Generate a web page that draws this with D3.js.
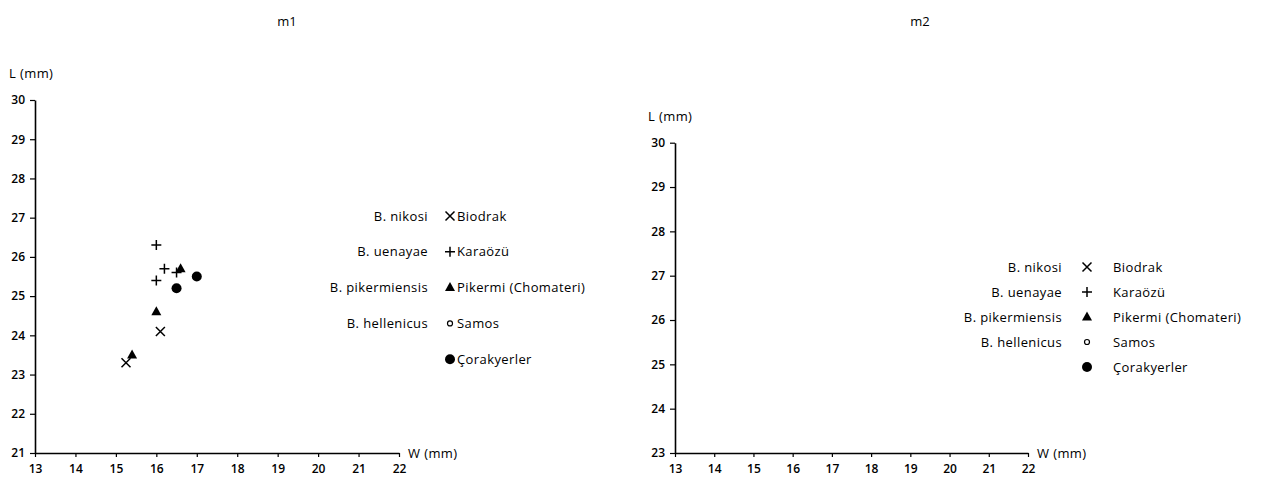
<!DOCTYPE html>
<html>
<head>
<meta charset="utf-8">
<script src="https://cdn.jsdelivr.net/npm/d3@7/dist/d3.min.js"></script>
<style>
  body { margin: 0; background: #fff; }
  svg { display: block; }
  text { font-family: "Open Sans", "Noto Sans", sans-serif; fill: #000; }
  .lab { letter-spacing: 0.4px; }
</style>
</head>
<body>
<svg id="chart" width="1265" height="484"></svg>
<script>
// Locality groups, species names and marker shapes
const localities = ["Biodrak", "Karaözü", "Pikermi (Chomateri)", "Samos", "Çorakyerler"];
const species = ["B. nikosi", "B. uenayae", "B. pikermiensis", "B. hellenicus", ""];
const shapes = ["x", "plus", "triangle", "ring", "dot"];

// m1 measurements: width W (mm) and length L (mm)
const m1Locality = ["Karaözü", "Karaözü", "Karaözü", "Karaözü",
                    "Pikermi (Chomateri)", "Pikermi (Chomateri)", "Pikermi (Chomateri)",
                    "Çorakyerler", "Çorakyerler", "Biodrak", "Biodrak"];
const m1W = [16.0, 16.2, 16.5, 16.0, 16.6, 16.0, 15.4, 17.0, 16.5, 16.1, 15.25];
const m1L = [26.3, 25.7, 25.6, 25.4, 25.7, 24.6, 23.5, 25.5, 25.2, 24.1, 23.3];

// m2 has no plotted measurements
const m2Locality = [];
const m2W = [];
const m2L = [];

const xTicks = [13, 14, 15, 16, 17, 18, 19, 20, 21, 22];
const yTicksM1 = [21, 22, 23, 24, 25, 26, 27, 28, 29, 30];
const yTicksM2 = [23, 24, 25, 26, 27, 28, 29, 30];

const svg = d3.select("#chart");

function marker(g, shape, cx, cy) {
  if (shape === "x") {
    const s = 4.5;
    g.append("path")
      .attr("d", `M${cx - s},${cy - s}L${cx + s},${cy + s}M${cx - s},${cy + s}L${cx + s},${cy - s}`)
      .attr("stroke", "#000").attr("stroke-width", 1.5).attr("fill", "none");
  } else if (shape === "plus") {
    const s = 5;
    g.append("path")
      .attr("d", `M${cx - s},${cy}L${cx + s},${cy}M${cx},${cy - s}L${cx},${cy + s}`)
      .attr("stroke", "#000").attr("stroke-width", 1.5).attr("fill", "none");
  } else if (shape === "triangle") {
    g.append("path")
      .attr("d", `M${cx},${cy - 5.5}L${cx + 5},${cy + 3.5}L${cx - 5},${cy + 3.5}Z`)
      .attr("fill", "#000");
  } else if (shape === "ring") {
    g.append("circle").attr("cx", cx).attr("cy", cy).attr("r", 2.5)
      .attr("fill", "#fff").attr("stroke", "#000").attr("stroke-width", 1.2);
  } else if (shape === "dot") {
    g.append("circle").attr("cx", cx).attr("cy", cy).attr("r", 5).attr("fill", "#000");
  }
}

function panel(cfg) {
  const g = svg.append("g");
  const x = d3.scaleLinear().domain([13, 22]).range([cfg.x0, cfg.x1]);
  const y = d3.scaleLinear().domain(cfg.yDomain).range([cfg.yBottom, cfg.yTop]);

  // Title
  g.append("text").attr("x", cfg.titleX).attr("y", 26)
    .attr("text-anchor", "middle").attr("font-size", 13).text(cfg.title);

  // Axes
  const xAxis = d3.axisBottom(x).tickValues(xTicks).tickFormat(d3.format("d"))
    .tickSize(4).tickSizeOuter(0).tickPadding(7);
  const yAxis = d3.axisLeft(y).tickValues(cfg.yTicks).tickFormat(d3.format("d"))
    .tickSize(5).tickSizeOuter(0).tickPadding(5);

  const gx = g.append("g").attr("transform", `translate(0,${cfg.yBottom})`).call(xAxis);
  const gy = g.append("g").attr("transform", `translate(${cfg.x0},0)`).call(yAxis);
  [gx, gy].forEach(a => {
    a.select(".domain").attr("stroke", "#000").attr("stroke-width", 1.6);
    a.selectAll(".tick line").attr("stroke", "#000").attr("stroke-width", 1.2);
    a.selectAll(".tick text").attr("font-size", 12).attr("font-family", "Open Sans, sans-serif")
      .attr("fill", "#000").attr("font-weight", 600);
  });

  // Axis titles
  g.append("text").attr("class", "lab").attr("x", cfg.yLabelX).attr("y", y(cfg.yDomain[1]) - 22)
    .attr("font-size", 13).text("L (mm)");
  g.append("text").attr("class", "lab").attr("x", cfg.x1 + 9).attr("y", cfg.yBottom + 5)
    .attr("font-size", 13).text("W (mm)");

  // Data points
  const pts = g.append("g");
  cfg.W.forEach((w, i) => {
    const shape = shapes[localities.indexOf(cfg.loc[i])];
    marker(pts, shape, x(w), y(cfg.L[i]));
  });

  // Legend
  const lg = g.append("g");
  localities.forEach((name, i) => {
    const ly = cfg.legY + i * cfg.legStep;
    if (species[i]) {
      lg.append("text").attr("class", "lab").attr("x", cfg.legLabelX).attr("y", ly + 4.5)
        .attr("text-anchor", "end").attr("font-size", 13).text(species[i]);
    }
    marker(lg, shapes[i], cfg.legSymX, ly);
    lg.append("text").attr("class", "lab").attr("x", cfg.legTextX).attr("y", ly + 4.5)
      .attr("font-size", 13).text(name);
  });
}

panel({
  title: "m1", titleX: 287,
  x0: 35, x1: 399, yBottom: 453, yTop: 100,
  yDomain: [21, 30], yTicks: yTicksM1, yLabelX: 9,
  W: m1W, L: m1L, loc: m1Locality,
  legY: 216, legStep: 35.8, legLabelX: 428, legSymX: 450, legTextX: 457
});

panel({
  title: "m2", titleX: 920,
  x0: 675, x1: 1028, yBottom: 453, yTop: 142.7,
  yDomain: [23, 30], yTicks: yTicksM2, yLabelX: 648,
  W: m2W, L: m2L, loc: m2Locality,
  legY: 267, legStep: 25, legLabelX: 1062, legSymX: 1087, legTextX: 1113
});
</script>
</body>
</html>
